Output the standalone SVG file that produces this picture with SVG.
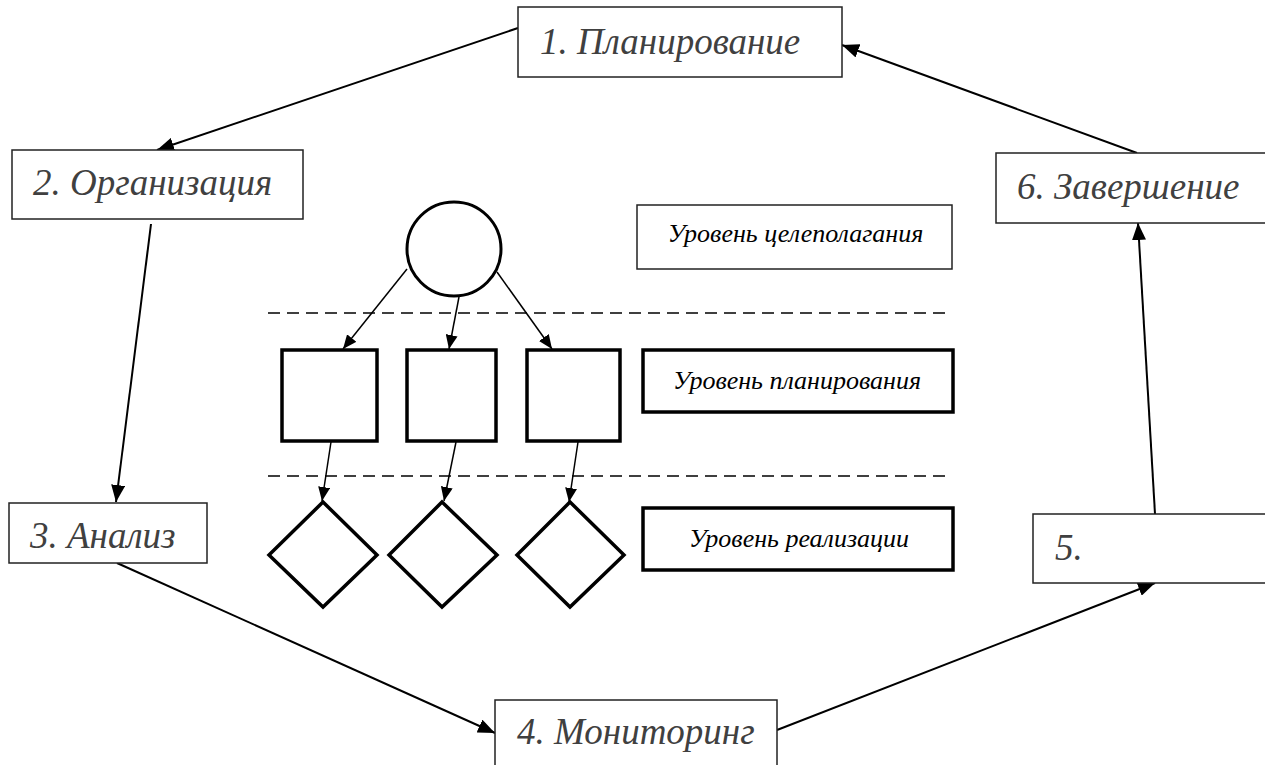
<svg xmlns="http://www.w3.org/2000/svg" width="1265" height="765" viewBox="0 0 1265 765">
<style>
.box{fill:#fff;stroke:#222;stroke-width:1.5}
.thick{fill:#fff;stroke:#000;stroke-width:3.5}
.lbl{font-family:"Liberation Serif","DejaVu Serif",serif;font-style:italic;font-size:37px;fill:#404040}
.lvl{font-family:"Liberation Serif","DejaVu Serif",serif;font-style:italic;font-size:26px;fill:#000}
.con{stroke:#000;stroke-width:2;fill:none;marker-end:url(#ah)}
.icon{stroke:#000;stroke-width:1.5;fill:none;marker-end:url(#ah2)}
.dash{stroke:#000;stroke-width:1.5;stroke-dasharray:12 7;fill:none}
</style>
<defs>
<marker id="ah" markerUnits="userSpaceOnUse" markerWidth="18" markerHeight="14" refX="17" refY="7" orient="auto"><path d="M0,0 L17,7 L0,14 z" fill="#000"/></marker>
<marker id="ah2" markerUnits="userSpaceOnUse" markerWidth="15" markerHeight="12" refX="14" refY="6" orient="auto"><path d="M0,0 L14,6 L0,12 z" fill="#000"/></marker>
</defs>
<rect width="1265" height="765" fill="#fff"/>
<g id="connectors">
<line class="con" x1="518" y1="28" x2="157" y2="150"/>
<line class="con" x1="151" y1="224" x2="116" y2="502"/>
<line class="con" x1="117" y1="563" x2="495" y2="733"/>
<line class="con" x1="777" y1="730" x2="1155" y2="583"/>
<line class="con" x1="1155" y1="514" x2="1138" y2="223"/>
<line class="con" x1="1137" y1="153" x2="842" y2="45"/>
<line class="icon" x1="407" y1="269" x2="343" y2="349"/>
<line class="icon" x1="459" y1="297" x2="449" y2="349"/>
<line class="icon" x1="497" y1="272" x2="552" y2="349"/>
<line class="icon" x1="331" y1="442" x2="322" y2="501"/>
<line class="icon" x1="456" y1="442" x2="444" y2="501"/>
<line class="icon" x1="578" y1="442" x2="569" y2="502"/>
<line class="dash" x1="268" y1="313" x2="952" y2="313"/>
<line class="dash" x1="268" y1="476" x2="952" y2="476"/>
</g>
<g id="n1"><rect class="box" x="518" y="7" width="324" height="70"/><text class="lbl" x="540" y="54">1. Планирование</text></g>
<g id="n2"><rect class="box" x="12" y="150" width="291" height="69"/><text class="lbl" x="33" y="195">2. Организация</text></g>
<g id="n3"><rect class="box" x="9" y="503" width="198" height="60"/><text class="lbl" x="30" y="548">3. Анализ</text></g>
<g id="n4"><rect class="box" x="495" y="700" width="282" height="80"/><text class="lbl" x="517" y="744">4. Мониторинг</text></g>
<g id="n5"><rect class="box" x="1033" y="514" width="250" height="69"/><text class="lbl" x="1055" y="560">5.</text></g>
<g id="n6"><rect class="box" x="996" y="153" width="290" height="70"/><text class="lbl" x="1017" y="199">6. Завершение</text></g>
<g id="goal"><circle cx="454" cy="249" r="47" fill="#fff" stroke="#000" stroke-width="3"/></g>
<g id="plan1"><rect class="thick" x="282" y="350" width="95" height="91"/></g>
<g id="plan2"><rect class="thick" x="407" y="350" width="89" height="91"/></g>
<g id="plan3"><rect class="thick" x="527" y="350" width="93" height="91"/></g>
<g id="real1"><polygon class="thick" points="323,502 377,555 323,607 269,555"/></g>
<g id="real2"><polygon class="thick" points="442,502 497,555 442,607 389,555"/></g>
<g id="real3"><polygon class="thick" points="570,502 624,555 570,607 517,555"/></g>
<g id="lvl1"><rect class="box" x="637" y="205" width="315" height="64"/><text class="lvl" x="795.5" y="242" text-anchor="middle">Уровень целеполагания</text></g>
<g id="lvl2"><rect class="thick" x="643" y="350" width="310" height="62"/><text class="lvl" x="797" y="389" text-anchor="middle">Уровень планирования</text></g>
<g id="lvl3"><rect class="thick" x="643" y="508" width="310" height="62"/><text class="lvl" x="799" y="547" text-anchor="middle">Уровень реализации</text></g>
</svg>
